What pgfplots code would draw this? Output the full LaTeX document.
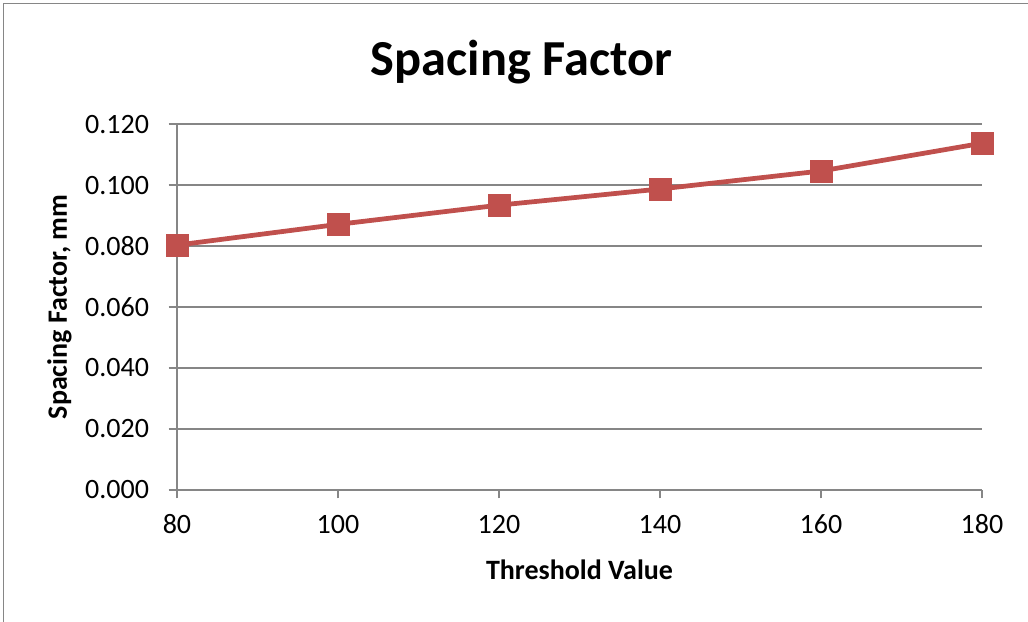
\documentclass[border=0pt]{standalone}
\usepackage{fontspec}
\setmainfont{Carlito}
\usepackage{pgfplots}
\pgfplotsset{compat=1.18}
\definecolor{excelred}{RGB}{192,80,77}
\definecolor{gridgray}{RGB}{134,134,134}

\begin{document}
\begin{tikzpicture}
% page = 1028 x 621 px at 2.8 px per pt
\useasboundingbox (-63.21pt,-46.79pt) rectangle (303.93pt,175pt);
% chart area border (only top and left are inside the picture)
\draw[gridgray, line width=0.4pt] (-61.96pt,-60pt) -- (-61.96pt,173.75pt) -- (330pt,173.75pt);
\begin{axis}[
  at={(0pt,0pt)}, anchor=south west,
  scale only axis, width=287.5pt, height=130.7pt,
  xmin=80, xmax=180, ymin=0, ymax=0.12,
  xtick={80,100,120,140,160,180},
  ytick={0,0.02,0.04,0.06,0.08,0.1,0.12},
  axis x line*=bottom, axis y line*=left,
  axis line style={gridgray, line width=0.6pt, -},
  tick align=outside, major tick length=3pt,
  tick style={gridgray, line width=0.6pt},
  ymajorgrids, grid style={gridgray, line width=0.6pt},
  clip=false,
  /pgf/number format/assume math mode=true,
  ticklabel style={font=\fontsize{10}{12}\selectfont, inner sep=0pt},
  yticklabel style={/pgf/number format/fixed, /pgf/number format/fixed zerofill,
    /pgf/number format/precision=3, anchor=east, xshift=-6.8pt},
  xticklabel style={anchor=base, yshift=-12.4pt},
  title={Spacing Factor},
  title style={font=\bfseries\fontsize{18}{21}\selectfont, at={(0.428,1.088)}, anchor=base, inner sep=0pt},
  xlabel={Threshold Value},
  xlabel style={font=\bfseries\fontsize{10}{12}\selectfont, at={(axis description cs:0.5,0)}, anchor=base, yshift=-32pt, inner sep=0pt},
  ylabel={Spacing Factor, mm},
  ylabel style={font=\bfseries\fontsize{10}{12}\selectfont, at={(axis description cs:0,0.5)}, anchor=base, yshift=39.3pt, inner sep=0pt},
]
\addplot[excelred, line width=1.7pt, mark=square*, mark size=3.9pt,
  mark options={solid, fill=excelred, draw=excelred, line width=0.2pt}]
  coordinates {(80,0.0803) (100,0.0871) (120,0.0934) (140,0.0987) (160,0.1046) (180,0.1137)};
\end{axis}
\end{tikzpicture}
\end{document}
